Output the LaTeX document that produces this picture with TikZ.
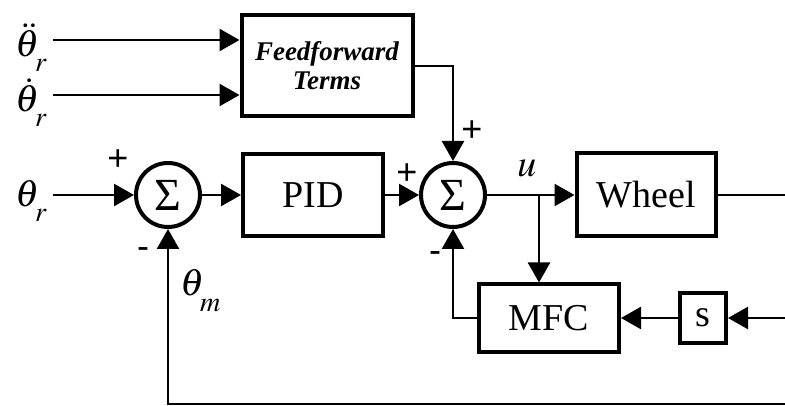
\documentclass[tikz,border=0pt]{standalone}
\usepackage{mathptmx}
\usepackage{fontspec}
\setmainfont{Liberation Serif}
\newfontfamily\signfont{Liberation Sans}
\usetikzlibrary{arrows.meta, positioning}

\begin{document}
\begin{tikzpicture}[x=1pt,y=-1pt,line width=2.5pt,
    >={Triangle[length=20pt,width=22pt]},
    block/.style={draw,line width=4pt,inner sep=0pt,font=\fontsize{38}{40}\selectfont},
    sum/.style={draw,circle,line width=4pt,minimum size=64pt,inner sep=0pt,font=\fontsize{46}{46}\selectfont},
    sign/.style={font=\signfont\fontsize{36}{36}\selectfont,inner sep=0pt},
    lbl/.style={font=\fontsize{38}{40}\selectfont,inner sep=0pt,anchor=base west}]
        \useasboundingbox (0,0) rectangle (785,406);
        % blocks
        \node[block,minimum width=171pt,minimum height=101pt,align=center,
              font=\fontsize{27}{29}\selectfont\bfseries\itshape] (ff) at (327,66) {Feedforward\\Terms};
        \node[block,minimum width=140pt,minimum height=82pt] (pid) at (313,195) {PID};
        \node[block,minimum width=139pt,minimum height=83pt] (wheel) at (646,195) {Wheel};
        \node[block,minimum width=140pt,minimum height=67pt] (mfc) at (549,318) {MFC};
        \node[block,minimum width=46pt,minimum height=49pt] (sbox) at (703,318) {s};
        \node[sum] (s1) at (168,195) {Σ};
        \node[sum] (s2) at (453,195) {Σ};
        % inputs and free ends
        \coordinate (dd) at (53,40); \coordinate (d) at (53,95);
        \coordinate (r) at (53,195); \coordinate (br) at (539,195);
        \coordinate (out) at (785,195); \coordinate (sin) at (785,318);
        \coordinate (fb) at (785,404);
        \node[lbl] (ddth) at (14,57) {$\ddot{\theta}_{\raisebox{-9pt}{$\scriptstyle r$}}$};
        \node[lbl] (dth) at (14,112) {$\dot{\theta}_{\raisebox{-9pt}{$\scriptstyle r$}}$};
        \node[lbl] (th) at (14,207) {$\theta_{\raisebox{-9pt}{$\scriptstyle r$}}$};
        \node[lbl] (thm) at (179,295) {$\theta_{\raisebox{-11pt}{$\scriptstyle m$}}$};
        \node[lbl] (u) at (516,177) {$u$};
        % signs
        \node[sign] (p1) at (118,160) {+};
        \node[sign] (m1) at (143,253) {-};
        \node[sign] (p2) at (407,174) {+};
        \node[sign] (p3) at (472,131) {+};
        \node[sign] (m2) at (435,257) {-};
        % connectors
        \draw[->] (dd) -- (dd -| ff.west);
        \draw[->] (d) -- (d -| ff.west);
        \draw[->] (ff.east) -| (s2.north);
        \draw[->] (r) -- (s1);
        \draw[->] (s1) -- (pid);
        \draw[->] (pid) -- (s2);
        \draw[->] (s2) -- (wheel);
        \draw (wheel) -- (out);
        \draw[->] (br) -- (br |- mfc.north);
        \draw[->] (sin) -- (sbox);
        \draw[->] (sbox) -- (mfc);
        \draw[->] (mfc.west) -| (s2.south);
        \draw[->] (fb) -| (s1.south);
\end{tikzpicture}
\end{document}
